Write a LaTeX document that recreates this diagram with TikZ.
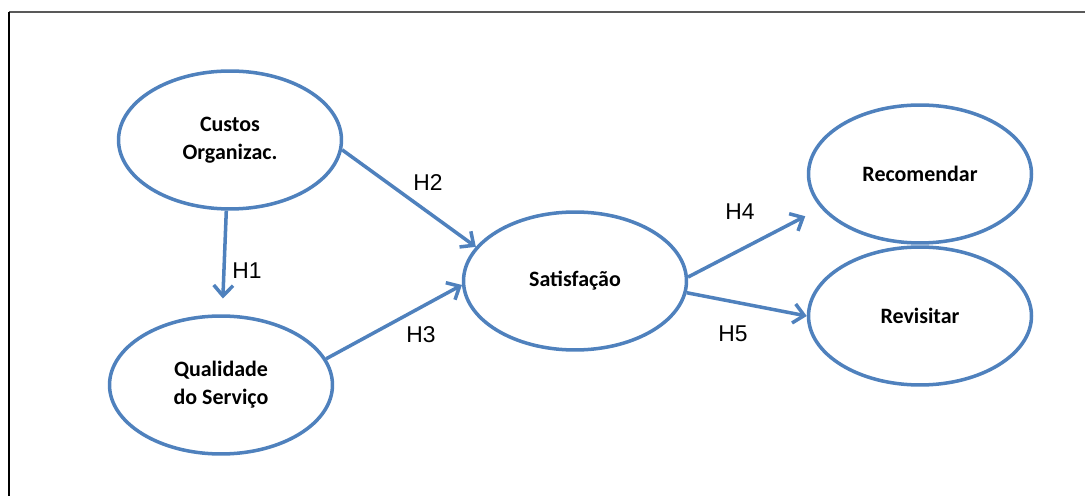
\documentclass[tikz,border=0pt]{standalone}
\usepackage{fontspec}
\setmainfont{Carlito}
\newfontfamily\hfont{Liberation Sans}
\usetikzlibrary{shapes.geometric,arrows.meta}

\definecolor{ovalblue}{HTML}{4F81BD}

\begin{document}
\begin{tikzpicture}[x=0.02cm,y=-0.02cm,
  construct/.style={ellipse, draw=ovalblue, line width=2pt, inner sep=0pt,
    minimum width=4.46cm, minimum height=2.76cm, align=center,
    font=\fontsize{12.5}{16}\selectfont\bfseries},
  link/.style={draw=ovalblue, line width=2pt,
    -{Straight Barb[length=6pt,width=11pt,line width=2pt]}},
  hlabel/.style={font=\hfont\fontsize{13}{15}\selectfont}]

\useasboundingbox (0,0) rectangle (1085,496);

% Frame
\draw[line width=1.6pt, black!65] (9,12) -- (1085,12);
\draw[line width=1pt] (9,12) -- (9,496);

% Constructs
\node[construct] (custos) at (230,140) {Custos\\Organizac.};
\node[construct] (qualidade) at (221,385) {Qualidade\\do Servi\c{c}o};
\node[construct] (satisf) at (575,281) {Satisfa\c{c}\~{a}o};
\node[construct] (recom) at (920,174) {Recomendar};
\node[construct] (revis) at (920,316) {Revisitar};

% Hypotheses
\draw[link, shorten >=9pt] (custos.-93) -- (qualidade.89);
\draw[link] (custos.-5) -- (satisf.161);
\draw[link] (qualidade.14) -- (satisf.182);
\draw[link, shorten >=10pt] (satisf.2) -- (recom.199);
\draw[link] (satisf.-6) -- (revis.west);

\node[hlabel] (h1) at (247,271) {H1};
\node[hlabel] (h2) at (428,183) {H2};
\node[hlabel] (h3) at (421,335) {H3};
\node[hlabel] (h4) at (740,212) {H4};
\node[hlabel] (h5) at (733,334) {H5};

\end{tikzpicture}
\end{document}
